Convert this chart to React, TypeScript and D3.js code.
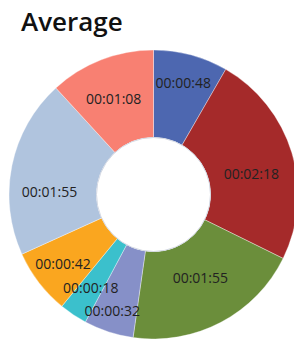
import React from "react";
import * as d3 from "d3";

const labels = ["00:00:48", "00:02:18", "00:01:55", "00:00:32", "00:00:18", "00:00:42", "00:01:55", "00:01:08"];
const seconds = [48, 138, 115, 32, 18, 42, 115, 68];
const colors = ["#4d67b0", "#a52a2a", "#6b8e3b", "#8690c8", "#3bc0cc", "#faa61f", "#b0c4de", "#f88072"];
const title = "Average";

// label placement relative to each slice (radius, angular nudge in degrees)
const labelRadius = [115, 100, 96, 124, 113, 114, 104, 103];
const labelNudge = [0, 5, -1.4, 1.3, 0, 0, -10.2, -1.5];

const W = 294, H = 339;
const cx = 153.5, cy = 194.5, R = 144.5, r0 = 57;

export default function App() {
  const pie = d3.pie<number>().sort(null).value((d) => d);
  const arcs = pie(seconds);
  const arc = d3.arc<d3.PieArcDatum<number>>().innerRadius(r0).outerRadius(R);

  const labelPos = (a: d3.PieArcDatum<number>, i: number) => {
    const mid = (a.startAngle + a.endAngle) / 2 + (labelNudge[i] * Math.PI) / 180;
    const rr = labelRadius[i];
    return [cx + rr * Math.sin(mid), cy - rr * Math.cos(mid)];
  };

  return (
    <div style={{ position: "fixed", left: 0, top: 0 }}>
      <svg width={W} height={H} style={{ display: "block" }}>
        <rect width={W} height={H} fill="#fff" />
        <text x={21} y={31} fontFamily="'Open Sans', sans-serif" fontWeight={600} fontSize={26} fill="#111">
          {title}
        </text>
        <g transform={`translate(${cx},${cy})`}>
          {arcs.map((a, i) => (
            <path key={i} d={arc(a) || ""} fill={colors[i]} stroke="#fff" strokeWidth={0.6} strokeOpacity={0.6} />
          ))}
          <circle r={r0} fill="#fff" stroke="#d3d8e3" strokeWidth={1} />
        </g>
        {arcs.map((a, i) => {
          const [x, y] = labelPos(a, i);
          return (
            <text key={i} x={x} y={y} dy="0.35em" textAnchor="middle" fontFamily="'Open Sans', sans-serif" fontSize={14} fill="#222">
              {labels[i]}
            </text>
          );
        })}
      </svg>
    </div>
  );
}
